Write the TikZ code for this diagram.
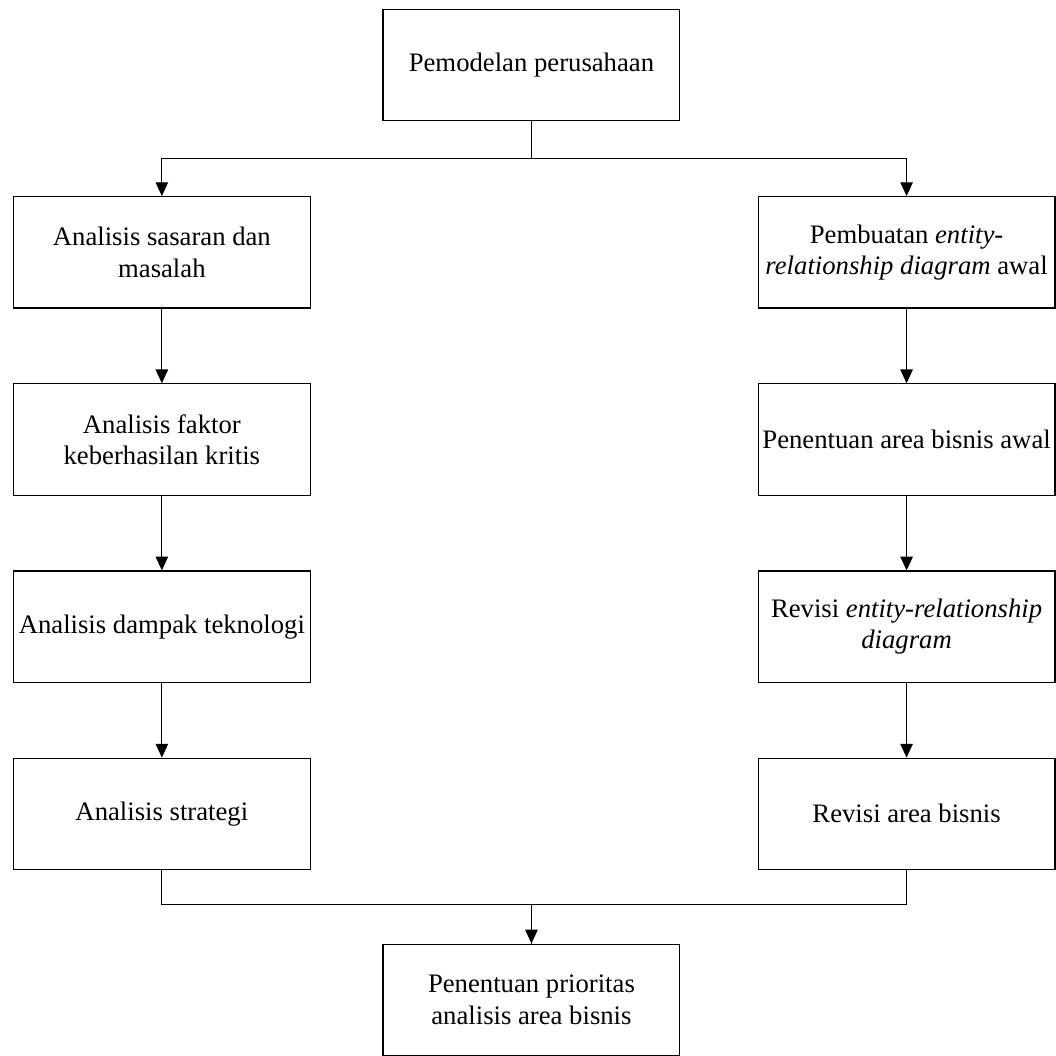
\documentclass[tikz,border=0pt]{standalone}
\usepackage{fontspec}
\setmainfont{Liberation Serif}
\usepackage{tikz}
\usetikzlibrary{positioning, arrows.meta}

\begin{document}
\begin{tikzpicture}[
	node distance=1.18cm and 1.18cm,
	box/.style={draw, line width=0.5pt, align=center, inner sep=1pt, minimum width=4.69cm, minimum height=1.76cm, font=\fontsize{12}{14}\selectfont},
	line/.style={line width=0.5pt},
	>={Triangle[width=5.6pt, length=6.2pt]}
]
	\node[box] (pemodelan) {Pemodelan perusahaan};

	% kolom kiri
	\node[box, below=1.18cm of pemodelan, xshift=-5.84cm] (sasaran) {Analisis sasaran dan\\masalah};
	\node[box, below=of sasaran] (faktor) {Analisis faktor\\keberhasilan kritis};
	\node[box, below=of faktor] (dampak) {Analisis dampak teknologi};
	\node[box, below=of dampak] (strategi) {Analisis strategi};

	% kolom kanan
	\node[box, right=7.06cm of sasaran] (erd) {Pembuatan \textit{entity}-\\\textit{relationship diagram} awal};
	\node[box, below=of erd] (area) {Penentuan area bisnis awal};
	\node[box, below=of area] (reverd) {Revisi \textit{entity-relationship}\\\textit{diagram}};
	\node[box, below=of reverd] (revarea) {Revisi area bisnis};

	\node[box, anchor=north, yshift=-1.16cm] (prioritas) at (pemodelan |- strategi.south) {Penentuan prioritas\\analisis area bisnis};

	\draw[line, ->] (pemodelan.south) -- ++(0,-0.58) -| (sasaran.north);
	\draw[line, ->] (pemodelan.south) -- ++(0,-0.58) -| (erd.north);
	\draw[line, ->] (sasaran) -- (faktor);
	\draw[line, ->] (faktor) -- (dampak);
	\draw[line, ->] (dampak) -- (strategi);
	\draw[line, ->] (erd) -- (area);
	\draw[line, ->] (area) -- (reverd);
	\draw[line, ->] (reverd) -- (revarea);
	\draw[line, ->] (strategi.south) -- ++(0,-0.55) -| (prioritas.north);
	\draw[line] (revarea.south) -- ++(0,-0.55) -| (prioritas.north);

	\coordinate (nw) at (sasaran.west |- pemodelan.north);
	\useasboundingbox ([xshift=-5.8pt, yshift=4pt]nw) rectangle ++(467.8pt,-467.4pt);
\end{tikzpicture}
\end{document}
